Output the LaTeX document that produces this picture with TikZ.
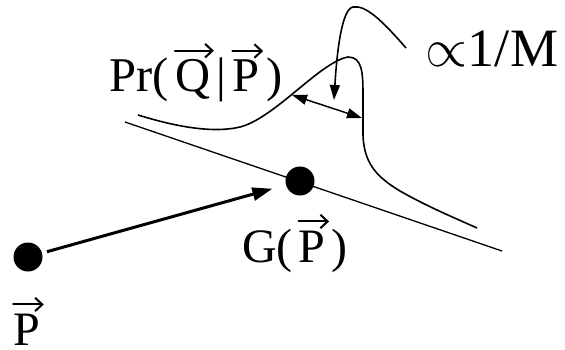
\documentclass[tikz,border=0pt]{standalone}
\usepackage{graphicx}
\usepackage{fontspec}
\setmainfont{Liberation Serif}
\usetikzlibrary{arrows.meta}
\newsavebox\veclbox
\newdimen\veclw
\newcommand\vecl[1]{\sbox\veclbox{#1}\veclw=\wd\veclbox\advance\veclw by 0.8pt\kern1.3pt\rlap{\kern-0.3pt\raisebox{\dimexpr\ht\veclbox+1.9pt\relax}{\tikz[baseline=0pt,x=1pt,y=1pt]\draw[line width=0.42pt,line cap=round,-{Straight Barb[length=1.5pt,width=2.8pt,line width=0.42pt]}] (0pt,0pt) -- (\veclw,0pt);}}\usebox\veclbox\kern1.3pt}
\newcommand\bigtxt[2]{\scalebox{#1}{\fontsize{10}{12}\selectfont #2}}
\tikzset{
  thinline/.style={line width=1.3pt},
  curveline/.style={line width=1.6pt},
  dot/.style={circle, fill=black, minimum size=29pt, inner sep=0pt},
  tipS/.style={-{Triangle[length=15pt,width=10pt]}},
  lbl/.style={anchor=base, inner sep=0pt}
}
\begin{document}
\begin{tikzpicture}[x=1pt,y=-1pt]
\useasboundingbox (0,0) rectangle (565,350);
% manifold line
\coordinate (l1) at (125,122);
\coordinate (l2) at (502,251);
\draw[thinline] (l1) -- (l2);
% dots
\node[dot] (pdot) at (28,257) {};
\node[dot] (gdot) at (300,181) {};
% thick arrow
\draw[line width=3pt, -{Triangle[length=20pt,width=13pt]}, shorten <=5pt, shorten >=14pt] (pdot) -- (gdot);
% distribution curve
\draw[curveline] (138,115) .. controls (180,128) and (215,133) .. (240,127)
  .. controls (275,118) and (320,62) .. (348,57)
  .. controls (362,57) and (363,72) .. (363,95)
  -- (363,135)
  .. controls (364,162) and (375,176) .. (400,191)
  .. controls (428,207) and (455,218) .. (477,228);
% width arrow
\coordinate (wa) at (292,95);
\coordinate (wb) at (362,118);
\draw[line width=1.5pt, {Triangle[length=15pt,width=10pt]}-{Triangle[length=15pt,width=10pt]}] (wa) -- (wb);
% pointer from label
\coordinate (pa) at (406,48);
\coordinate (pb) at (334,100);
\draw[curveline, tipS] (pa) .. controls (380,18) and (365,5) .. (353,7)
  .. controls (342,9) and (337,50) .. (pb);
% labels
\node[lbl] (pr) at (196,92) {\bigtxt{4.85}{Pr(\vecl{Q}|\vecl{P})}};
\node[lbl] (m) at (492,67) {\bigtxt{5.4}{$\propto$1/M}};
\node[lbl] (g) at (295,262) {\bigtxt{4.8}{G(\vecl{P})}};
\node[lbl] (p) at (27,345) {\bigtxt{4.8}{\vecl{P}}};
\end{tikzpicture}
\end{document}
